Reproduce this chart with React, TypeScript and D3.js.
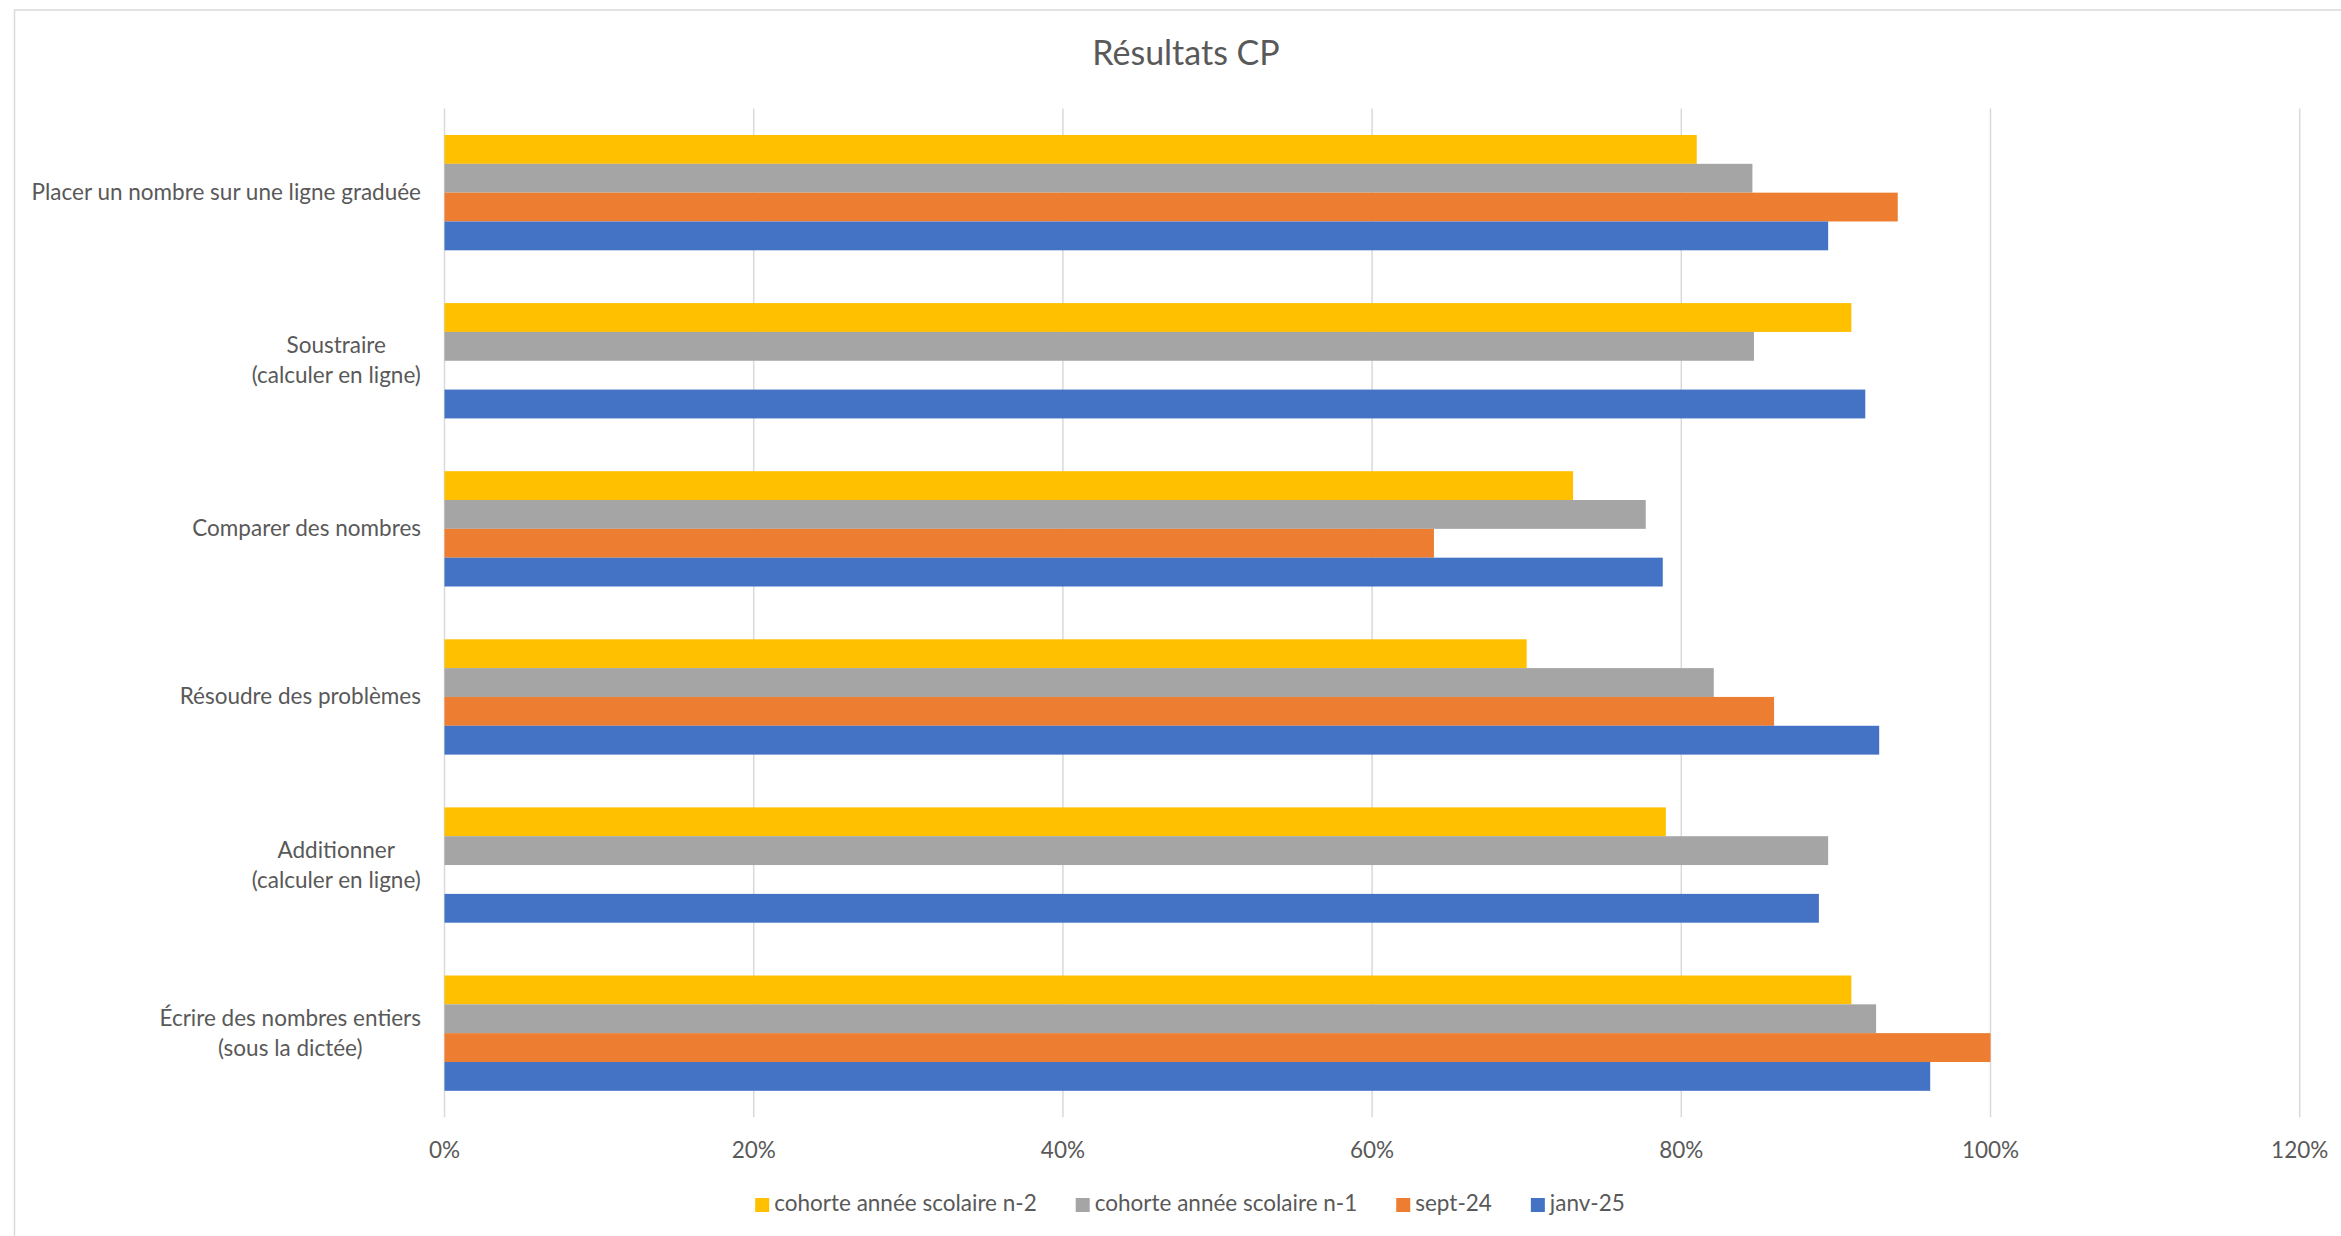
import React, { useMemo } from 'react';
import * as d3 from 'd3';

const categoryLines: string[][] = [
  ['Placer un nombre sur une ligne graduée'],
  ['Soustraire', '(calculer en ligne)'],
  ['Comparer des nombres'],
  ['Résoudre des problèmes'],
  ['Additionner', '(calculer en ligne)'],
  ['Écrire des nombres entiers', '(sous la dictée)'],
];
const categories = categoryLines.map((l) => l.join(' '));

const seriesNames = ['cohorte année scolaire n-2', 'cohorte année scolaire n-1', 'sept-24', 'janv-25'];
const seriesColors = ['#FFC000', '#A5A5A5', '#ED7D31', '#4472C4'];

const cohorteN2: (number | null)[] = [0.81, 0.91, 0.73, 0.70, 0.79, 0.91];
const cohorteN1: (number | null)[] = [0.846, 0.847, 0.777, 0.821, 0.895, 0.926];
const sept24: (number | null)[] = [0.94, null, 0.64, 0.86, null, 1.0];
const janv25: (number | null)[] = [0.895, 0.919, 0.788, 0.928, 0.889, 0.961];

const xTicks = [0, 0.2, 0.4, 0.6, 0.8, 1.0, 1.2];
const title = 'Résultats CP';

const W = 2341;
const H = 1236;
const FONT = 'Lato, "Open Sans", sans-serif';
const TEXT = '#595959';
const GRID = '#d9d9d9';

export default function App() {
  const seriesValues = [cohorteN2, cohorteN1, sept24, janv25];
  const plot = { left: 444.5, right: 2299.7, top: 108.6, bottom: 1117.2 };
  const labelSize = 22.5;

  const x = d3.scaleLinear().domain([0, 1.2]).range([plot.left, plot.right]);
  const y0 = d3
    .scaleBand<string>()
    .domain(categories)
    .range([plot.top, plot.bottom])
    .paddingInner(0.314)
    .paddingOuter(0.157);
  const y1 = d3
    .scaleBand<string>()
    .domain(seriesNames)
    .range([0, y0.bandwidth()]);

  const legendLayout = useMemo(() => {
    const canvas = document.createElement('canvas');
    const ctx = canvas.getContext('2d')!;
    ctx.font = `${labelSize}px Lato`;
    const sq = 14;
    const gapText = 5;
    const gapItem = 39;
    const widths = seriesNames.map((n) => ctx.measureText(n).width);
    const total = widths.reduce((a, w) => a + sq + gapText + w, 0) + gapItem * (seriesNames.length - 1);
    let cx = 1190 - total / 2;
    return widths.map((w) => {
      const pos = cx;
      cx += sq + gapText + w + gapItem;
      return pos;
    });
  }, []);

  return (
    <svg
      width={W}
      height={H}
      style={{ position: 'absolute', left: 0, top: 0, background: '#fff' }}
      fontFamily={FONT}
    >
      <rect x={0} y={0} width={W} height={H} fill="#fff" />
      <rect x={14.5} y={10} width={W + 100} height={H + 100} fill="none" stroke={GRID} strokeWidth={1.5} />

      <text x={1186} y={65} textAnchor="middle" fontSize={34} fill={TEXT}>
        {title}
      </text>

      {xTicks.map((t) => (
        <line key={t} x1={x(t)} x2={x(t)} y1={plot.top} y2={plot.bottom} stroke={GRID} strokeWidth={1.5} />
      ))}

      {categories.map((c, ci) => (
        <g key={c} transform={`translate(0,${y0(c)})`}>
          {seriesNames.map((s, si) => {
            const v = seriesValues[si][ci];
            if (v == null) return null;
            return (
              <rect
                key={s}
                x={x(0)}
                y={y1(s)}
                width={x(v) - x(0)}
                height={y1.bandwidth()}
                fill={seriesColors[si]}
              />
            );
          })}
        </g>
      ))}

      {categoryLines.map((lines, ci) => {
        const cy = (y0(categories[ci]) as number) + y0.bandwidth() / 2;
        const lh = 30;
        const n = lines.length;
        if (n === 1) {
          return (
            <text key={ci} x={421} y={cy + 7.5} textAnchor="end" fontSize={labelSize} fill={TEXT}>
              {lines[0]}
            </text>
          );
        }
        return (
          <CenteredBlock key={ci} lines={lines} right={421} cy={cy} lh={lh} size={labelSize} />
        );
      })}

      {xTicks.map((t) => (
        <text key={t} x={x(t)} y={1158} textAnchor="middle" fontSize={labelSize} fill={TEXT}>
          {d3.format('.0%')(t)}
        </text>
      ))}

      {seriesNames.map((s, i) => (
        <g key={s} transform={`translate(${legendLayout[i]},0)`}>
          <rect x={0} y={1198} width={14} height={14} fill={seriesColors[i]} />
          <text x={19} y={1211} fontSize={labelSize} fill={TEXT}>
            {s}
          </text>
        </g>
      ))}
    </svg>
  );
}

function CenteredBlock({ lines, right, cy, lh, size }: { lines: string[]; right: number; cy: number; lh: number; size: number }) {
  const width = useMemo(() => {
    const canvas = document.createElement('canvas');
    const ctx = canvas.getContext('2d')!;
    ctx.font = `${size}px Lato`;
    return Math.max(...lines.map((l) => ctx.measureText(l).width));
  }, [lines, size]);
  const cx = right - width / 2;
  const n = lines.length;
  return (
    <g>
      {lines.map((l, i) => (
        <text
          key={i}
          x={cx}
          y={cy + 7.5 + (i - (n - 1) / 2) * lh}
          textAnchor="middle"
          fontSize={size}
          fill={TEXT}
        >
          {l}
        </text>
      ))}
    </g>
  );
}
